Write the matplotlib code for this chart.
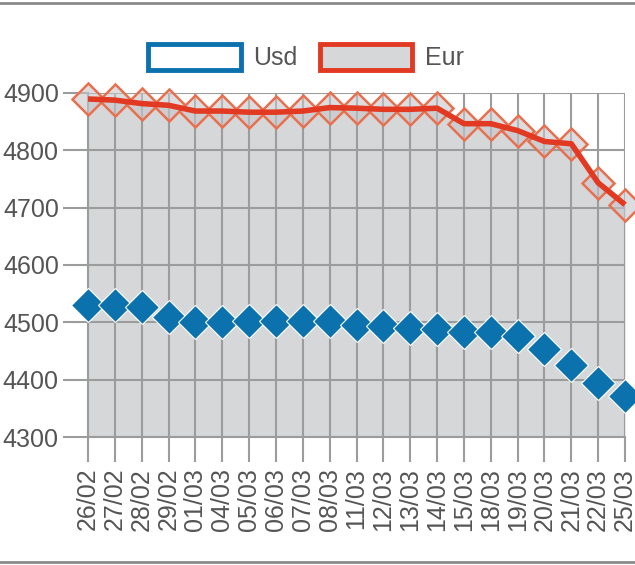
import matplotlib.pyplot as plt
from matplotlib.patches import Patch
from matplotlib.lines import Line2D

dates = ['26/02', '27/02', '28/02', '29/02', '01/03', '04/03', '05/03', '06/03',
         '07/03', '08/03', '11/03', '12/03', '13/03', '14/03', '15/03', '18/03',
         '19/03', '20/03', '21/03', '22/03', '25/03']
usd = [4531, 4531, 4526, 4509, 4500, 4500, 4502, 4502, 4502, 4502, 4496,
       4494, 4491, 4488, 4483, 4484, 4477, 4454, 4426, 4395, 4372]
eur = [4889, 4887, 4881, 4878, 4868, 4868, 4866, 4866, 4868, 4874, 4873,
       4871, 4871, 4873, 4846, 4846, 4834, 4815, 4811, 4743, 4705]
yticks = [4300, 4400, 4500, 4600, 4700, 4800, 4900]

plt.rcParams['font.family'] = ['Liberation Sans', 'DejaVu Sans']
text_col = '#555555'
grid_col = '#9c9c9c'
blue = '#0b72ae'
red = '#e23a22'

fig = plt.figure(figsize=(6.35, 5.65), dpi=100)
ax = fig.add_axes([0.1386, 0.226, 0.8457, 0.610])

x = list(range(len(dates)))
ax.fill_between(x, eur, 4300, color='#d6d7d9', lw=0, zorder=1)
ax.plot(x, eur, ls='none', marker='D', ms=16.5, mfc=(0.78, 0.78, 0.8, 0.6),
        mec='#e8704f', mew=1.8, zorder=3, clip_on=False)
ax.plot(x, eur, color=red, lw=4, zorder=4, clip_on=False,
        solid_joinstyle='round', solid_capstyle='butt')
ax.plot(x, usd, ls='none', marker='D', ms=17, mfc=blue, mec='white',
        mew=0.8, zorder=5, clip_on=False)

ax.set_xlim(0, len(dates) - 1)
ax.set_ylim(4300, 4900)
ax.set_yticks(yticks)
ax.set_xticks(x)
ax.set_xticklabels(dates, rotation=90)
ax.set_axisbelow('line')
ax.grid(True, color=grid_col, lw=1.5)
ax.tick_params(axis='both', colors=grid_col, labelcolor=text_col,
               labelsize=18, width=1.5)
ax.tick_params(axis='y', length=18, pad=3)
ax.tick_params(axis='x', length=18, pad=4)
for s in ['top', 'right']:
    ax.spines[s].set_visible(False)
for s in ['left', 'bottom']:
    ax.spines[s].set_color(grid_col)
    ax.spines[s].set_linewidth(1.5)

handles = [Patch(facecolor='white', edgecolor=blue, lw=3.5, label='Usd'),
           Patch(facecolor='#d6d7d9', edgecolor=red, lw=3.5, label='Eur')]
fig.legend(handles=handles, loc='center', bbox_to_anchor=(0.482, 0.899),
           ncol=2, frameon=False, fontsize=18, labelcolor=text_col,
           handlelength=3.7, handleheight=1.2, handletextpad=0.5,
           columnspacing=0.9)

# outer frame lines
fig.add_artist(Line2D([0, 1], [0.995, 0.995], color='#8a8a8a', lw=2))
fig.add_artist(Line2D([0, 1], [0.005, 0.005], color='#8a8a8a', lw=2))

fig.savefig('out.png', dpi=100)
